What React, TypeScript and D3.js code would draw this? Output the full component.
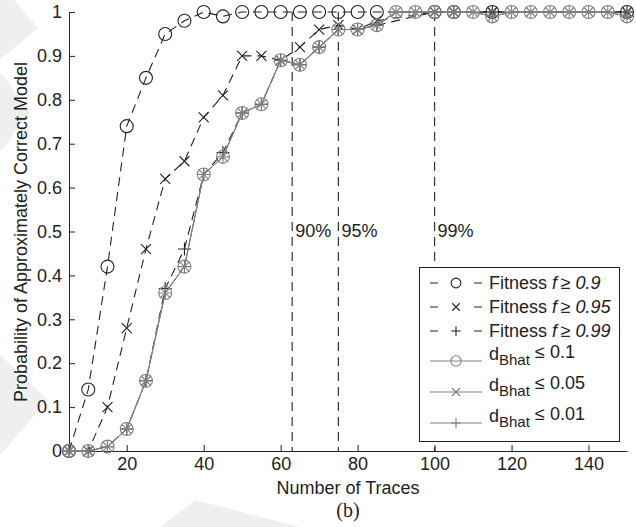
import { useEffect, useRef } from 'react';
import * as d3 from 'd3';

// x positions
const traces = [5, 10, 15, 20, 25, 30, 35, 40, 45, 50, 55, 60, 65, 70, 75, 80, 85, 90, 95, 100,
  105, 110, 115, 120, 125, 130, 135, 140, 145, 150];
const fitTraces = [5, 10, 15, 20, 25, 30, 35, 40, 45, 50, 55, 60, 65, 70, 75, 80, 85, 100, 105, 115, 150];

// fitness based curves (dashed, black)
const fit09 = [0, 0.14, 0.42, 0.74, 0.85, 0.95, 0.98, 1, 0.99, 1, 1, 1, 1, 1, 1, 1, 1, 1, 1, 1, 1];
const fit095 = [0, 0, 0.1, 0.28, 0.46, 0.62, 0.66, 0.76, 0.81, 0.9, 0.9, 0.89, 0.92, 0.96, 0.97, 0.96, 0.98, 1, 1, 1, 1];
const fit099 = [0, 0, 0.01, 0.05, 0.16, 0.37, 0.46, 0.63, 0.68, 0.77, 0.79, 0.89, 0.88, 0.92, 0.96, 0.96, 0.97, 1, 1, 1, 1];

// d_Bhat based curves (solid, gray)
const dB01 = [0, 0, 0.01, 0.05, 0.16, 0.36, 0.42, 0.63, 0.67, 0.77, 0.79, 0.89, 0.88, 0.92, 0.96, 0.96, 0.97,
  1, 1, 1, 1, 1, 0.99, 1, 1, 1, 1, 1, 1, 0.99];
const dB005 = [0, 0, 0.01, 0.05, 0.16, 0.36, 0.42, 0.63, 0.67, 0.77, 0.79, 0.89, 0.88, 0.92, 0.96, 0.96, 0.97,
  1, 1, 1, 1, 1, 0.99, 1, 1, 1, 1, 1, 1, 0.99];
const dB001 = [0, 0, 0.01, 0.05, 0.16, 0.36, 0.42, 0.63, 0.67, 0.77, 0.79, 0.89, 0.88, 0.92, 0.96, 0.96, 0.97,
  1, 1, 1, 1, 1, 0.99, 1, 1, 1, 1, 1, 1, 0.99];

const vLines = [63, 75, 100];
const vLabels = ['90%', '95%', '99%'];

const xTicks = [20, 40, 60, 80, 100, 120, 140];
const yTicks = [0, 0.1, 0.2, 0.3, 0.4, 0.5, 0.6, 0.7, 0.8, 0.9, 1];

const FONT = 'Liberation Sans, Arial, Helvetica, sans-serif';
const FS = 18;
const BLACK = '#222';
const GRAY = '#808080';

type Mk = 'o' | 'x' | '+';

function marker(g: any, type: Mk, cx: number, cy: number, color: string, k = 1) {
  if (type === 'o') {
    g.append('circle').attr('cx', cx).attr('cy', cy).attr('r', 6.5 * k)
      .attr('fill', 'none').attr('stroke', color).attr('stroke-width', 1.1);
  } else if (type === 'x') {
    const s = 5 * k;
    g.append('path').attr('d', `M${cx - s},${cy - s}L${cx + s},${cy + s}M${cx - s},${cy + s}L${cx + s},${cy - s}`)
      .attr('stroke', color).attr('stroke-width', 1.1).attr('fill', 'none');
  } else {
    const s = 6.5 * k;
    g.append('path').attr('d', `M${cx - s},${cy}L${cx + s},${cy}M${cx},${cy - s}L${cx},${cy + s}`)
      .attr('stroke', color).attr('stroke-width', 1.1).attr('fill', 'none');
  }
}

const App = () => {
  const svgRef = useRef<SVGSVGElement>(null);

  useEffect(() => {
    const svg = d3.select(svgRef.current);
    svg.selectAll('*').remove();

    const x = d3.scaleLinear().domain([5, 150]).range([69, 627]);
    const y = d3.scaleLinear().domain([0, 1]).range([451, 12]);

    // faint watermark chevrons
    const wm = svg.append('g').attr('fill', '#efefef');
    wm.append('path').attr('d', 'M0,0L14,0L38,28L0,60Z');
    wm.append('path').attr('d', 'M0,72L30,112L0,152Z');
    wm.append('path').attr('d', 'M0,355L48,400L0,455Z');
    wm.append('path').attr('d', 'M160,527L195,500L300,527Z');

    // vertical threshold lines
    vLines.forEach((v, i) => {
      svg.append('line')
        .attr('x1', x(v)).attr('x2', x(v)).attr('y1', y(1)).attr('y2', y(0))
        .attr('stroke', '#333').attr('stroke-width', 1.2).attr('stroke-dasharray', '9,6');
      svg.append('text')
        .attr('x', x(v) + 3).attr('y', 237)
        .attr('font-family', FONT).attr('font-size', FS).attr('fill', BLACK)
        .text(vLabels[i]);
    });

    // axes
    const xa = svg.append('g').attr('transform', `translate(0,${y(0)})`)
      .call(d3.axisBottom(x).tickValues(xTicks).tickSizeInner(-6).tickSizeOuter(0).tickPadding(6));
    const ya = svg.append('g').attr('transform', `translate(${x(5)},0)`)
      .call(d3.axisLeft(y).tickValues(yTicks).tickSizeInner(-6).tickSizeOuter(0).tickPadding(7)
        .tickFormat((d: any) => String(+d)));
    [xa, ya].forEach(a => {
      a.attr('font-family', FONT).attr('font-size', FS);
      a.selectAll('path,line').attr('stroke', BLACK);
      a.selectAll('text').attr('fill', BLACK);
    });

    svg.append('text').attr('x', 348).attr('y', 494).attr('text-anchor', 'middle')
      .attr('font-family', FONT).attr('font-size', FS).attr('fill', BLACK).text('Number of Traces');
    svg.append('text').attr('x', 348).attr('y', 517).attr('text-anchor', 'middle')
      .attr('font-family', 'Liberation Serif, Times New Roman, serif').attr('font-size', 20).attr('fill', BLACK)
      .text('(b)');
    svg.append('text').attr('transform', `translate(27,232) rotate(-90)`).attr('text-anchor', 'middle')
      .attr('font-family', FONT).attr('font-size', FS).attr('fill', BLACK)
      .text('Probability of Approximately Correct Model');

    const line = d3.line<[number, number]>().x(d => x(d[0])).y(d => y(d[1]));

    const fitSeries: [number[], Mk][] = [[fit09, 'o'], [fit095, 'x'], [fit099, '+']];
    fitSeries.forEach(([vals, mk]) => {
      const pts = fitTraces.map((t, i) => [t, vals[i]] as [number, number]);
      svg.append('path').attr('d', line(pts)).attr('fill', 'none')
        .attr('stroke', BLACK).attr('stroke-width', 1.1).attr('stroke-dasharray', '9,6');
      const g = svg.append('g');
      pts.forEach(p => marker(g, mk, x(p[0]), y(p[1]), BLACK));
    });

    const dSeries: [number[], Mk][] = [[dB01, 'o'], [dB005, 'x'], [dB001, '+']];
    dSeries.forEach(([vals, mk]) => {
      const pts = traces.map((t, i) => [t, vals[i]] as [number, number]);
      svg.append('path').attr('d', line(pts)).attr('fill', 'none')
        .attr('stroke', GRAY).attr('stroke-width', 1);
      const g = svg.append('g');
      pts.forEach(p => marker(g, mk, x(p[0]), y(p[1]), GRAY));
    });

    // legend
    const lg = svg.append('g');
    lg.append('rect').attr('x', 419.5).attr('y', 267.5).attr('width', 200).attr('height', 174)
      .attr('fill', 'white').attr('stroke', BLACK).attr('stroke-width', 1);
    const fitLabels = ['0.9', '0.95', '0.99'];
    const rowsY = [283, 307, 331];
    fitSeries.forEach(([, mk], i) => {
      const ry = rowsY[i];
      lg.append('line').attr('x1', 430).attr('x2', 482).attr('y1', ry).attr('y2', ry)
        .attr('stroke', BLACK).attr('stroke-width', 1.1).attr('stroke-dasharray', '8,36,8');
      marker(lg, mk, 456, ry, BLACK, 0.75);
      const t = lg.append('text').attr('x', 489).attr('y', ry + 6)
        .attr('font-family', FONT).attr('font-size', FS).attr('fill', BLACK);
      t.append('tspan').text('Fitness ');
      t.append('tspan').attr('font-style', 'italic').text('f\u2009');
      t.append('tspan').text('\u2265 ');
      t.append('tspan').attr('font-style', 'italic').text(fitLabels[i]);
    });
    const dLabels = ['0.1', '0.05', '0.01'];
    const dRowsY = [361, 392, 423];
    dSeries.forEach(([, mk], i) => {
      const ry = dRowsY[i];
      lg.append('line').attr('x1', 430).attr('x2', 482).attr('y1', ry).attr('y2', ry)
        .attr('stroke', GRAY).attr('stroke-width', 1);
      marker(lg, mk, 456, ry, GRAY, 0.8);
      const t = lg.append('text').attr('x', 489).attr('y', ry - 1)
        .attr('font-family', FONT).attr('font-size', FS).attr('fill', BLACK);
      t.append('tspan').text('d');
      t.append('tspan').attr('font-size', 15).attr('dy', 5).text('Bhat');
      t.append('tspan').attr('x', 535).attr('dy', -7).text('\u2264 ' + dLabels[i]);
    });
  }, []);

  return (
    <svg ref={svgRef} width={636} height={527}
      style={{ position: 'absolute', left: 0, top: 0, background: 'white' }} />
  );
};

export default App;
